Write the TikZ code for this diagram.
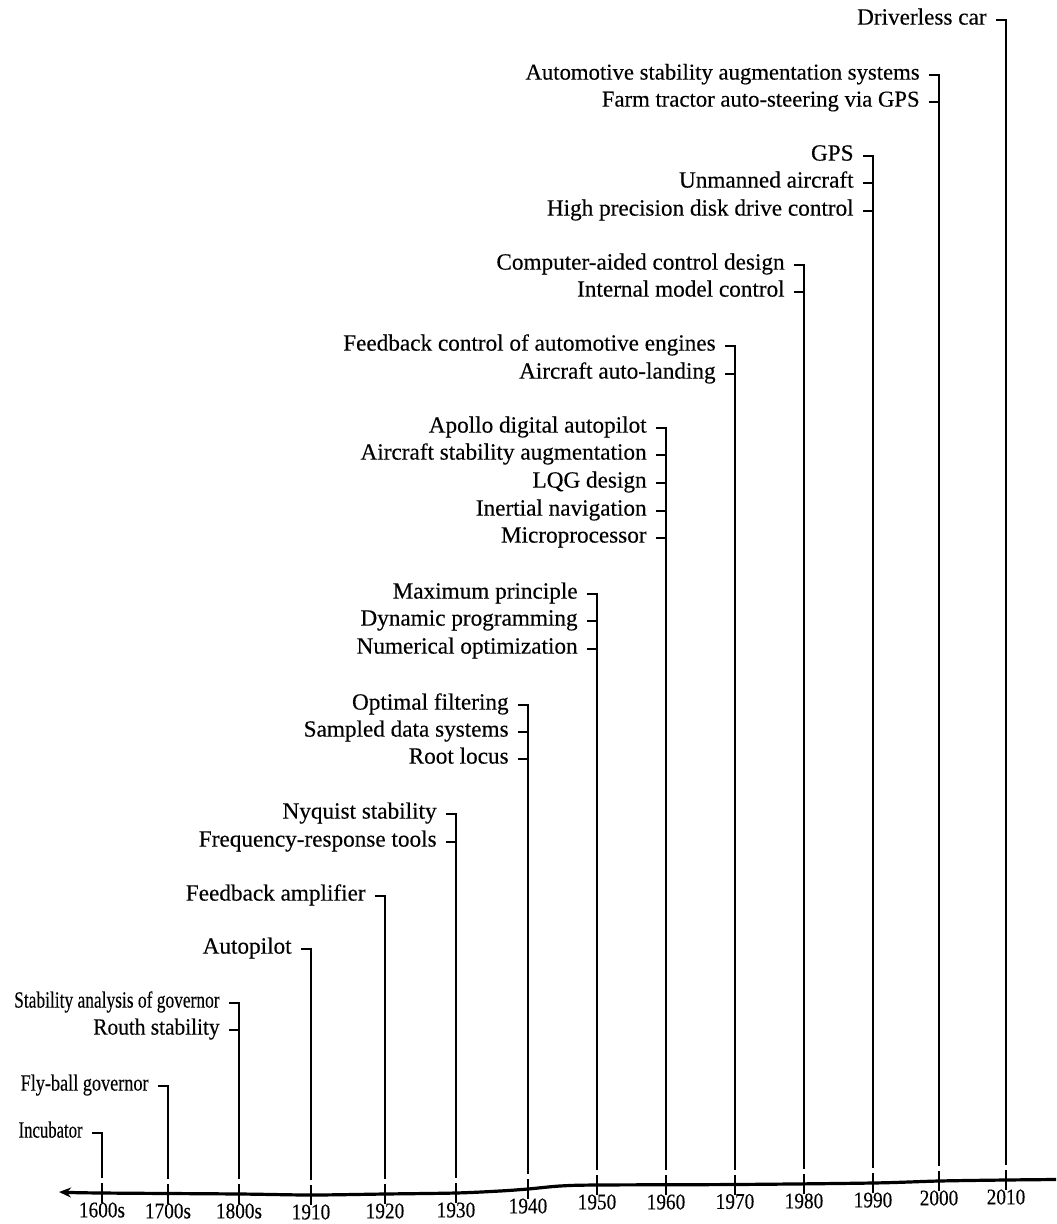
\documentclass[tikz,border=0pt]{standalone}
\usepackage{fontspec}
\setmainfont{Liberation Serif}[FakeBold=0.3]
\usepackage{graphicx}
\usetikzlibrary{arrows.meta}
\begin{document}
\begin{tikzpicture}[x=0.5pt,y=-0.5pt,
  lbl/.style={anchor=mid east, inner xsep=4.5pt, inner ysep=1pt, font=\fontsize{11.6}{13}\selectfont},
  yr/.style={inner sep=0pt, font=\fontsize{11.2}{12}\selectfont},
  tl/.style={line width=0.9pt},
  tk/.style={line width=0.9pt},
  ax/.style={line width=1.6pt}]
\useasboundingbox (0,0) rectangle (1056,1224);

% axis
\draw[ax,{Stealth[length=6pt,width=5pt]}-] plot[smooth,tension=0.5] coordinates {(59,1192) (102,1193) (239,1194) (311,1195) (385,1194) (456,1193) (500,1191) (528,1189) (560,1186) (597,1185) (735,1184.5) (873,1183) (939,1181) (1006,1180) (1056,1179.5)};

% ticks, year labels, line bottoms
\foreach \x/\ay/\t/\n in {102/1193/1600s/y1600,168/1194/1700s/y1700,239/1194/1800s/y1800,311/1195/1910/y1910,385/1194/1920/y1920,456/1193/1930/y1930,528/1189/1940/y1940,597/1185/1950/y1950,666/1185/1960/y1960,735/1184.5/1970/y1970,804/1184/1980/y1980,873/1183/1990/y1990,939/1181/2000/y2000,1006/1180/2010/y2010}{
  \node[yr] (lab\n) at (\x,\ay+17) {\scalebox{0.86}[1]{\t}};
  \draw[tk] (\x,\ay-10) -- (\x,\ay+10);
  \coordinate (b\n) at (\x,\ay-15);
}

% 2010
\node[lbl] (driverless) at (996,20) {Driverless car};
\draw[tl] (driverless.mid east) -| (by2010);

% 2000
\node[lbl,font=\fontsize{11.35}{13}\selectfont] (autostab) at (929,75) {Automotive stability augmentation systems};
\node[lbl,font=\fontsize{11.35}{13}\selectfont] (farm) at (929,102) {Farm tractor auto-steering via GPS};
\draw[tl] (autostab.mid east) -| (by2000);
\draw[tl] (farm.mid east) -- (farm.mid east -| by2000);

% 1990
\node[lbl] (gps) at (863,156) {GPS};
\node[lbl] (unmanned) at (863,183) {Unmanned aircraft};
\node[lbl] (disk) at (863,211) {High precision disk drive control};
\draw[tl] (gps.mid east) -| (by1990);
\draw[tl] (unmanned.mid east) -- (unmanned.mid east -| by1990);
\draw[tl] (disk.mid east) -- (disk.mid east -| by1990);

% 1980
\node[lbl] (cacd) at (794,265) {Computer-aided control design};
\node[lbl] (imc) at (794,292) {Internal model control};
\draw[tl] (cacd.mid east) -| (by1980);
\draw[tl] (imc.mid east) -- (imc.mid east -| by1980);

% 1970
\node[lbl] (engines) at (725,346) {Feedback control of automotive engines};
\node[lbl] (autoland) at (725,374) {Aircraft auto-landing};
\draw[tl] (engines.mid east) -| (by1970);
\draw[tl] (autoland.mid east) -- (autoland.mid east -| by1970);

% 1960
\node[lbl] (apollo) at (656,428) {Apollo digital autopilot};
\node[lbl] (acstab) at (656,455) {Aircraft stability augmentation};
\node[lbl] (lqg) at (656,483) {LQG design};
\node[lbl] (inertial) at (656,511) {Inertial navigation};
\node[lbl] (micro) at (656,538) {Microprocessor};
\draw[tl] (apollo.mid east) -| (by1960);
\draw[tl] (acstab.mid east) -- (acstab.mid east -| by1960);
\draw[tl] (lqg.mid east) -- (lqg.mid east -| by1960);
\draw[tl] (inertial.mid east) -- (inertial.mid east -| by1960);
\draw[tl] (micro.mid east) -- (micro.mid east -| by1960);

% 1950
\node[lbl] (maxp) at (587,594) {Maximum principle};
\node[lbl] (dynp) at (587,621) {Dynamic programming};
\node[lbl] (numopt) at (587,649) {Numerical optimization};
\draw[tl] (maxp.mid east) -| (by1950);
\draw[tl] (dynp.mid east) -- (dynp.mid east -| by1950);
\draw[tl] (numopt.mid east) -- (numopt.mid east -| by1950);

% 1940
\node[lbl] (optf) at (518,705) {Optimal filtering};
\node[lbl] (sampled) at (518,732) {Sampled data systems};
\node[lbl] (rootl) at (518,759) {Root locus};
\draw[tl] (optf.mid east) -| (by1940);
\draw[tl] (sampled.mid east) -- (sampled.mid east -| by1940);
\draw[tl] (rootl.mid east) -- (rootl.mid east -| by1940);

% 1930
\node[lbl] (nyq) at (446,814) {Nyquist stability};
\node[lbl] (freq) at (446,842) {Frequency-response tools};
\draw[tl] (nyq.mid east) -| (by1930);
\draw[tl] (freq.mid east) -- (freq.mid east -| by1930);

% 1920
\node[lbl] (fbamp) at (375,896) {Feedback amplifier};
\draw[tl] (fbamp.mid east) -| (by1920);

% 1910
\node[lbl] (autopilot) at (301,949) {Autopilot};
\draw[tl] (autopilot.mid east) -| (by1910);

% 1800s
\node[lbl] (stabgov) at (229,1003) {\scalebox{0.75}[1]{Stability analysis of governor}};
\node[lbl] (routh) at (229,1030) {\scalebox{0.92}[1]{Routh stability}};
\draw[tl] (stabgov.mid east) -| (by1800);
\draw[tl] (routh.mid east) -- (routh.mid east -| by1800);

% 1700s
\node[lbl] (flyball) at (158,1086) {\scalebox{0.785}[1]{Fly-ball governor}};
\draw[tl] (flyball.mid east) -| (by1700);

% 1600s
\node[lbl] (incub) at (92,1133) {\scalebox{0.72}[1]{Incubator}};
\draw[tl] (incub.mid east) -| (by1600);
\end{tikzpicture}
\end{document}
